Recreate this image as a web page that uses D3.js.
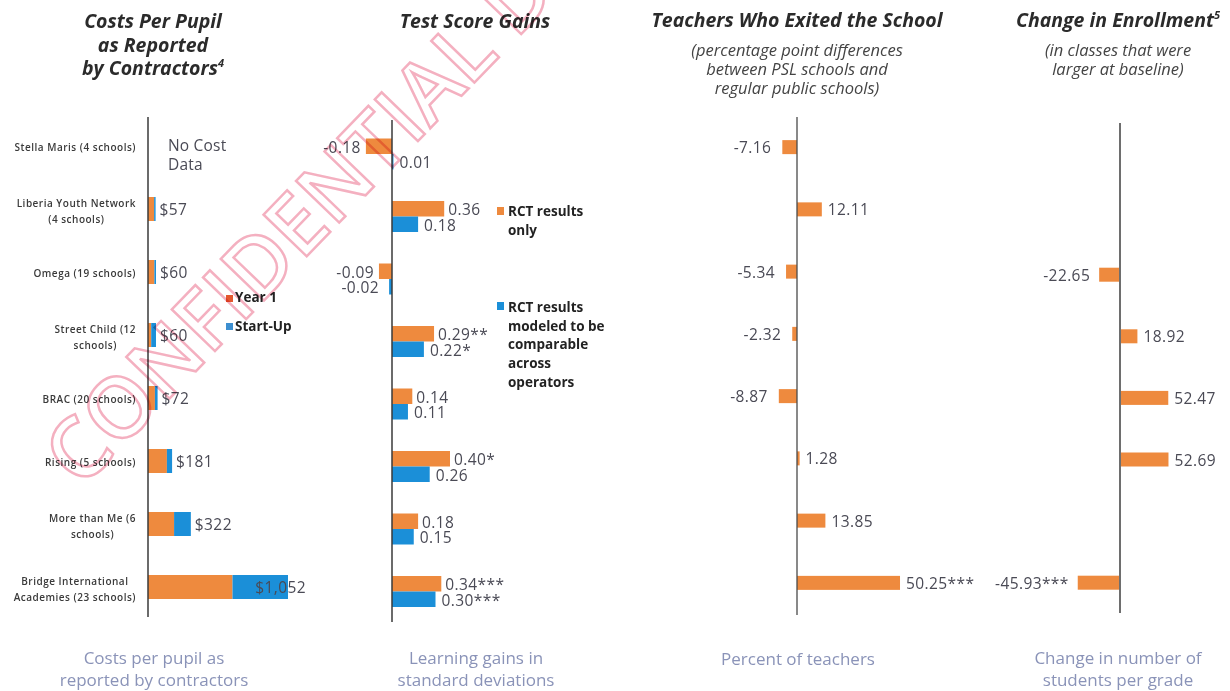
<!DOCTYPE html>
<html>
<head>
<meta charset="utf-8">
<script src="https://cdn.jsdelivr.net/npm/d3@7"></script>
<style>
  html, body { margin: 0; padding: 0; background: #fff; }
  svg { display: block; font-family: "Open Sans", "DejaVu Sans", sans-serif; }
  .title { font-weight: 700; font-style: italic; font-size: 19.5px; fill: #2b2b2b; }
  .subtitle { font-style: italic; font-size: 16.5px; fill: #444; }
  .cat { font-size: 10px; font-weight: 600; fill: #3a3a3a; letter-spacing: 0.5px; }
  .val { font-size: 15.5px; fill: #4a4a55; letter-spacing: 0.4px; }
  .legend { font-size: 13.5px; font-weight: 700; fill: #222; }
  .foot { font-size: 17px; fill: #8a93b8; }
</style>
</head>
<body>
<svg id="chart" width="1230" height="691"></svg>
<script>
// --- data ---
const schools = ["Stella Maris", "Liberia Youth Network", "Omega", "Street Child", "BRAC", "Rising", "More than Me", "Bridge"];
const schoolLabels = [
  ["Stella Maris (4 schools)"],
  ["Liberia Youth Network", "(4 schools)"],
  ["Omega (19 schools)"],
  ["Street Child (12", "schools)"],
  ["BRAC (20 schools)"],
  ["Rising (5 schools)"],
  ["More than Me (6", "schools)"],
  ["Bridge International", "Academies (23 schools)"]
];

const costYear1 = [null, 46, 48, 24, 52, 142, 196, 635];
const costStartUp = [null, 11, 12, 36, 20, 39, 126, 417];
const costLabels = [null, "$57", "$60", "$60", "$72", "$181", "$322", "$1,052"];

const scoreRCT = [-0.18, 0.36, -0.09, 0.29, 0.14, 0.40, 0.18, 0.34];
const scoreRCTLabels = ["-0.18", "0.36", "-0.09", "0.29**", "0.14", "0.40*", "0.18", "0.34***"];
const scoreModeled = [0.01, 0.18, -0.02, 0.22, 0.11, 0.26, 0.15, 0.30];
const scoreModeledLabels = ["0.01", "0.18", "-0.02", "0.22*", "0.11", "0.26", "0.15", "0.30***"];

const teacherExit = [-7.16, 12.11, -5.34, -2.32, -8.87, 1.28, 13.85, 50.25];
const teacherLabels = ["-7.16", "12.11", "-5.34", "-2.32", "-8.87", "1.28", "13.85", "50.25***"];

const enrollChange = [null, null, -22.65, 18.92, 52.47, 52.69, null, -45.93];
const enrollLabels = [null, null, "-22.65", "18.92", "52.47", "52.69", null, "-45.93***"];

const ORANGE = "#ee8a3e";
const BLUE = "#1b8fd8";

const svg = d3.select("#chart");

// --- helpers ---
function multiLine(g, lines, x, y0, lh, cls, anchor) {
  const t = g.append("text").attr("class", cls).attr("text-anchor", anchor || "middle");
  lines.forEach((l, i) => t.append("tspan").attr("x", x).attr("y", y0 + i * lh).text(l));
  return t;
}

function valueLabel(g, xPos, yPos, v, text, gapPos, gapNeg) {
  g.append("text").attr("class", "val")
    .attr("x", v < 0 ? xPos - gapNeg : xPos + gapPos)
    .attr("y", yPos)
    .attr("text-anchor", v < 0 ? "end" : "start")
    .text(text);
}

// ================= Panel 1: costs =================
const p1 = svg.append("g");
const xCost = d3.scaleLinear().domain([0, 1052]).range([148, 288]);
const yCost = d3.scaleBand().domain(schools).range([114.5, 618.5]);
const cCost = s => yCost(s) + yCost.bandwidth() / 2;

multiLine(p1, ["Costs Per Pupil", "as Reported"], 153, 28, 24, "title");
p1.append("text").attr("class", "title").attr("x", 153).attr("y", 75).attr("text-anchor", "middle")
  .text("by Contractors").append("tspan").attr("font-size", 11).attr("dy", -8).text("4");

// category labels: longest line right aligned, the rest centred under it
schools.forEach((s, i) => {
  const lines = schoolLabels[i];
  const rightX = 136;
  const t = p1.append("text").attr("class", "cat").attr("text-anchor", "middle");
  const y0 = lines.length > 1 ? cCost(s) - 2 : cCost(s) + 5;
  const spans = lines.map((l, j) => t.append("tspan").attr("y", y0 + j * 15.5).text(l));
  const maxW = d3.max(spans, sp => sp.node().getComputedTextLength());
  spans.forEach(sp => sp.attr("x", rightX - maxW / 2));
});

const costRows = schools.map((s, i) => ({ s, y1: costYear1[i], su: costStartUp[i], label: costLabels[i] }))
  .filter(d => d.y1 != null);

p1.selectAll(".y1").data(costRows).join("rect")
  .attr("x", xCost(0)).attr("y", d => cCost(d.s) - 12)
  .attr("width", d => xCost(d.y1) - xCost(0)).attr("height", 24)
  .attr("fill", ORANGE);
p1.selectAll(".su").data(costRows).join("rect")
  .attr("x", d => xCost(d.y1)).attr("y", d => cCost(d.s) - 12)
  .attr("width", d => xCost(d.y1 + d.su) - xCost(d.y1)).attr("height", 24)
  .attr("fill", BLUE);

costRows.forEach(d => {
  const t = p1.append("text").attr("class", "val")
    .attr("x", xCost(d.y1 + d.su) + 4).attr("y", cCost(d.s) + 6).text(d.label);
  const w = t.node().getComputedTextLength();
  if (xCost(d.y1 + d.su) + 4 + w > 306) t.attr("x", 306).attr("text-anchor", "end");
});

p1.append("line").attr("x1", xCost(0)).attr("x2", xCost(0))
  .attr("y1", 117).attr("y2", 617).attr("stroke", "#3a3a3a").attr("stroke-width", 1.5);

multiLine(p1, ["No Cost", "Data"], xCost(0) + 20, cCost(schools[0]) + 5, 18.5, "val", "start")
  .attr("fill", "#333").style("font-weight", 500).style("letter-spacing", "0.2px");

// legend
const costLegend = [["Year 1", "#e4572e"], ["Start-Up", "#3d8fd0"]];
costLegend.forEach((d, i) => {
  p1.append("rect").attr("x", 226).attr("y", 295 + i * 28).attr("width", 7).attr("height", 7).attr("fill", d[1]);
  p1.append("text").attr("class", "legend").attr("x", 235).attr("y", 302 + i * 29).text(d[0]);
});

multiLine(p1, ["Costs per pupil as", "reported by contractors"], 154, 664, 22, "foot");

// ================= Panel 2: test scores =================
const p2 = svg.append("g");
const xScore = d3.scaleLinear().domain([0, 0.4]).range([392, 450]);
const yScore = d3.scaleBand().domain(schools).range([122.75, 622.75]);
const cScore = s => yScore(s) + yScore.bandwidth() / 2;

p2.append("text").attr("class", "title").attr("x", 475).attr("y", 28).attr("text-anchor", "middle").text("Test Score Gains");

const h2 = 15.5;
p2.selectAll(".rct").data(schools).join("rect")
  .attr("x", (s, i) => xScore(Math.min(0, scoreRCT[i])))
  .attr("y", s => cScore(s) - h2)
  .attr("width", (s, i) => Math.abs(xScore(scoreRCT[i]) - xScore(0)))
  .attr("height", h2).attr("fill", ORANGE);
p2.selectAll(".mod").data(schools).join("rect")
  .attr("x", (s, i) => xScore(Math.min(0, scoreModeled[i])))
  .attr("y", s => cScore(s))
  .attr("width", (s, i) => Math.abs(xScore(scoreModeled[i]) - xScore(0)))
  .attr("height", h2).attr("fill", BLUE);

schools.forEach((s, i) => {
  valueLabel(p2, xScore(scoreRCT[i]), cScore(s) - h2 / 2 + 6.5, scoreRCT[i], scoreRCTLabels[i], 4, 5);
  valueLabel(p2, xScore(scoreModeled[i]), cScore(s) + h2 / 2 + 6.5, scoreModeled[i], scoreModeledLabels[i], 6, 10);
});

p2.append("line").attr("x1", xScore(0)).attr("x2", xScore(0))
  .attr("y1", 120).attr("y2", 622).attr("stroke", "#3a3a3a").attr("stroke-width", 1.5);

p2.append("rect").attr("x", 497).attr("y", 207).attr("width", 7).attr("height", 8).attr("fill", ORANGE);
multiLine(p2, ["RCT results", "only"], 508, 216, 19, "legend", "start");
p2.append("rect").attr("x", 497).attr("y", 302).attr("width", 7).attr("height", 8).attr("fill", BLUE);
multiLine(p2, ["RCT results", "modeled to be", "comparable", "across", "operators"], 508, 312, 18.7, "legend", "start");

multiLine(p2, ["Learning gains in", "standard deviations"], 476, 664, 22, "foot");

// ================= Panel 3: teachers =================
const p3 = svg.append("g");
const xTeach = d3.scaleLinear().domain([0, 50]).range([797, 899.5]);
const yTeach = d3.scaleBand().domain(schools).range([116, 614]);
const cTeach = s => yTeach(s) + yTeach.bandwidth() / 2;

p3.append("text").attr("class", "title").attr("x", 797).attr("y", 27).attr("text-anchor", "middle").text("Teachers Who Exited the School");
multiLine(p3, ["(percentage point differences", "between PSL schools and", "regular public schools)"], 797, 56, 19, "subtitle");

p3.selectAll(".tb").data(schools).join("rect")
  .attr("x", (s, i) => xTeach(Math.min(0, teacherExit[i])))
  .attr("y", s => cTeach(s) - 7)
  .attr("width", (s, i) => Math.abs(xTeach(teacherExit[i]) - xTeach(0)))
  .attr("height", 14).attr("fill", ORANGE);
schools.forEach((s, i) => valueLabel(p3, xTeach(teacherExit[i]), cTeach(s) + 6, teacherExit[i], teacherLabels[i], 6, 11));

p3.append("line").attr("x1", xTeach(0)).attr("x2", xTeach(0))
  .attr("y1", 117).attr("y2", 615).attr("stroke", "#4a4a4a").attr("stroke-width", 1.3);

p3.append("text").attr("class", "foot").attr("x", 798).attr("y", 665).attr("text-anchor", "middle").text("Percent of teachers");

// ================= Panel 4: enrollment =================
const p4 = svg.append("g");
const xEnr = d3.scaleLinear().domain([0, 50]).range([1120, 1166]);
const yEnr = d3.scaleBand().domain(schools).range([120.7, 613.5]);
const cEnr = s => yEnr(s) + yEnr.bandwidth() / 2;

p4.append("text").attr("class", "title").attr("x", 1118).attr("y", 27).attr("text-anchor", "middle")
  .text("Change in Enrollment").append("tspan").attr("font-size", 11).attr("dy", -8).text("5");
multiLine(p4, ["(in classes that were", "larger at baseline)"], 1118, 56, 19, "subtitle");

const enrRows = schools.map((s, i) => ({ s, v: enrollChange[i], label: enrollLabels[i] })).filter(d => d.v != null);
p4.selectAll(".eb").data(enrRows).join("rect")
  .attr("x", d => xEnr(Math.min(0, d.v)))
  .attr("y", d => cEnr(d.s) - 7)
  .attr("width", d => Math.abs(xEnr(d.v) - xEnr(0)))
  .attr("height", 14).attr("fill", ORANGE);
enrRows.forEach(d => valueLabel(p4, xEnr(d.v), cEnr(d.s) + 6, d.v, d.label, 6, 9));

p4.append("line").attr("x1", xEnr(0)).attr("x2", xEnr(0))
  .attr("y1", 123).attr("y2", 613).attr("stroke", "#6e6e6e").attr("stroke-width", 2);

multiLine(p4, ["Change in number of", "students per grade"], 1118, 664, 22, "foot");

// ================= watermark =================
svg.append("text")
  .attr("transform", "translate(81,490) rotate(-46)")
  .attr("font-size", 84)
  .attr("font-weight", 600)
  .attr("fill", "none")
  .attr("stroke", "#f4b0c0")
  .attr("stroke-width", 2.5)
  .style("mix-blend-mode", "multiply")
  .text("CONFIDENTIAL DRAFT");
</script>
</body>
</html>
